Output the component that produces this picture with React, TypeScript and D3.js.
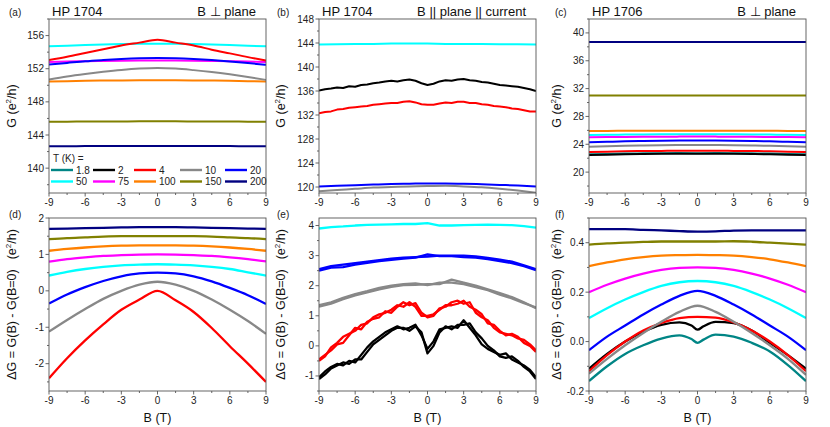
import * as d3 from 'd3';

// field grids (T)
const B13 = [-9, -7.5, -6, -4.5, -3, -1.5, 0, 1.5, 3, 4.5, 6, 7.5, 9];
const B15 = [-9, -7.5, -6, -4.5, -3, -1.5, -0.5, 0, 0.5, 1.5, 3, 4.5, 6, 7.5, 9];
const B19 = [-9, -8, -7, -6, -5, -4, -3, -2, -1, 0, 1, 2, 3, 4, 5, 6, 7, 8, 9];
const B37 = [
  -9, -8.5, -8, -7.5, -7, -6.5, -6, -5.5, -5, -4.5, -4, -3.5, -3, -2.5, -2, -1.5, -1, -0.5, 0,
  0.5, 1, 1.5, 2, 2.5, 3, 3.5, 4, 4.5, 5, 5.5, 6, 6.5, 7, 7.5, 8, 8.5, 9
];

const TEMPS = ['1.8', '2', '4', '10', '20', '50', '75', '100', '150', '200'];
const COLORS: Record<string, string> = {
  '1.8': '#008585',
  '2': '#000000',
  '4': '#ff0000',
  '10': '#888888',
  '20': '#0000ff',
  '50': '#00ffff',
  '75': '#ff00ff',
  '100': '#ff8000',
  '150': '#808000',
  '200': '#000080'
};

const X_TICKS = [-9, -6, -3, 0, 3, 6, 9];

// (a) HP 1704, B perpendicular, G (e^2/h)
const A_200 = [142.65, 142.65, 142.66, 142.66, 142.67, 142.67, 142.67, 142.67, 142.67, 142.66, 142.66, 142.65, 142.65];
const A_150 = [145.6, 145.61, 145.62, 145.63, 145.64, 145.65, 145.65, 145.65, 145.64, 145.63, 145.62, 145.61, 145.6];
const A_100 = [150.45, 150.5, 150.54, 150.57, 150.59, 150.6, 150.6, 150.6, 150.59, 150.57, 150.54, 150.5, 150.45];
const A_10 = [150.7, 151.05, 151.35, 151.62, 151.85, 152.02, 152.1, 152.02, 151.83, 151.6, 151.32, 151.0, 150.65];
const A_75 = [152.8, 152.86, 152.9, 152.94, 152.97, 152.99, 153.0, 152.99, 152.97, 152.94, 152.9, 152.86, 152.8];
const A_20 = [152.5, 152.7, 152.9, 153.05, 153.18, 153.27, 153.3, 153.27, 153.18, 153.05, 152.88, 152.68, 152.48];
const A_50 = [154.7, 154.78, 154.85, 154.92, 154.97, 155.0, 155.0, 155.0, 154.97, 154.92, 154.85, 154.78, 154.7];
const A_4 = [153.05, 153.45, 153.9, 154.35, 154.8, 155.15, 155.5, 155.15, 154.8, 154.3, 153.85, 153.4, 153.0];

// (b) HP 1704, B in plane
const B_50 = [143.75, 143.8, 143.85, 143.85, 143.9, 143.9, 143.9, 143.85, 143.85, 143.85, 143.8, 143.8, 143.75];
const B_2 = [
  136.1, 136.3, 136.4, 136.6, 136.5, 136.8, 136.7, 137.0, 137.1, 137.3, 137.4, 137.6, 137.7, 137.6, 137.8, 137.9, 137.7, 137.3, 137.0,
  137.2, 137.6, 137.8, 137.7, 137.9, 138.0, 137.8, 137.7, 137.5, 137.4, 137.2, 137.0, 136.9, 136.8, 136.7, 136.5, 136.3, 136.0
];
const B_4 = [
  132.3, 132.5, 132.6, 132.9, 133.0, 133.2, 133.3, 133.4, 133.5, 133.7, 133.8, 133.9, 134.0, 134.0, 134.2, 134.3, 134.1, 133.8, 133.7,
  133.7, 133.9, 134.1, 134.0, 134.2, 134.2, 134.0, 134.0, 133.8, 133.7, 133.5, 133.4, 133.3, 133.1, 133.0, 132.8, 132.6, 132.6
];
const B_20 = [120.1, 120.2, 120.3, 120.4, 120.5, 120.55, 120.6, 120.6, 120.55, 120.45, 120.35, 120.25, 120.1];
const B_10 = [119.3, 119.5, 119.7, 119.9, 120.0, 120.1, 120.15, 120.2, 120.1, 119.95, 119.7, 119.4, 119.05];

// (c) HP 1706, B perpendicular
const C_200 = [38.7, 38.7, 38.7, 38.7, 38.7, 38.7, 38.7, 38.7, 38.7, 38.7, 38.7, 38.7, 38.7];
const C_150 = [31.0, 31.0, 31.01, 31.01, 31.01, 31.01, 31.01, 31.01, 31.01, 31.01, 31.01, 31.0, 31.0];
const C_100 = [25.9, 25.92, 25.93, 25.94, 25.95, 25.95, 25.95, 25.95, 25.95, 25.94, 25.93, 25.92, 25.9];
const C_50 = [25.32, 25.36, 25.39, 25.42, 25.44, 25.45, 25.45, 25.45, 25.44, 25.42, 25.39, 25.36, 25.32];
const C_75 = [25.0, 25.03, 25.05, 25.07, 25.09, 25.1, 25.1, 25.1, 25.09, 25.07, 25.05, 25.03, 25.0];
const C_20 = [24.3, 24.36, 24.42, 24.47, 24.51, 24.54, 24.55, 24.54, 24.51, 24.47, 24.42, 24.36, 24.3];
const C_10 = [23.65, 23.72, 23.78, 23.83, 23.87, 23.89, 23.9, 23.89, 23.87, 23.83, 23.78, 23.72, 23.65];
const C_4 = [22.88, 22.94, 22.99, 23.03, 23.05, 23.07, 23.07, 23.07, 23.05, 23.03, 22.99, 22.94, 22.88];
const C_18 = [22.55, 22.61, 22.66, 22.7, 22.72, 22.73, 22.72, 22.73, 22.72, 22.7, 22.66, 22.61, 22.55];
const C_2 = [22.45, 22.51, 22.56, 22.6, 22.63, 22.64, 22.63, 22.64, 22.63, 22.6, 22.56, 22.51, 22.45];

// (d) HP 1704, B perpendicular, dG (offset)
const D_200 = [1.7, 1.71, 1.72, 1.73, 1.74, 1.75, 1.75, 1.75, 1.74, 1.73, 1.72, 1.71, 1.7];
const D_150 = [1.42, 1.45, 1.47, 1.49, 1.5, 1.5, 1.5, 1.5, 1.5, 1.49, 1.47, 1.45, 1.42];
const D_100 = [1.1, 1.15, 1.19, 1.22, 1.24, 1.25, 1.25, 1.25, 1.24, 1.22, 1.19, 1.15, 1.1];
const D_75 = [0.8, 0.87, 0.92, 0.96, 0.98, 0.995, 1.0, 0.995, 0.98, 0.96, 0.92, 0.87, 0.81];
const D_50 = [0.42, 0.52, 0.6, 0.66, 0.7, 0.72, 0.73, 0.72, 0.7, 0.66, 0.6, 0.51, 0.42];
const D_20 = [-0.35, -0.1, 0.1, 0.27, 0.4, 0.48, 0.5, 0.48, 0.4, 0.26, 0.08, -0.12, -0.36];
const D_10 = [-1.12, -0.8, -0.5, -0.22, 0.0, 0.17, 0.25, 0.17, 0.0, -0.24, -0.52, -0.83, -1.18];
const D_4 = [-2.4, -1.85, -1.36, -0.92, -0.52, -0.24, 0, -0.26, -0.58, -1.02, -1.52, -2.0, -2.5];

// (e) HP 1704, B in plane, dG (offset), two sweeps
const E_50 = [3.9, 3.95, 3.97, 4.0, 4.02, 4.03, 4.04, 4.05, 4.05, 4.08, 4.0, 4.0, 4.01, 4.02, 4.03, 4.02, 4.01, 3.98, 3.93];
const E_20a = [2.55, 2.65, 2.7, 2.75, 2.8, 2.85, 2.9, 2.93, 2.95, 2.97, 3.0, 3.0, 3.0, 2.97, 2.92, 2.87, 2.8, 2.68, 2.55];
const E_20b = [2.5, 2.6, 2.62, 2.7, 2.76, 2.82, 2.86, 2.9, 2.93, 3.04, 2.98, 2.98, 2.95, 2.93, 2.88, 2.82, 2.75, 2.65, 2.52];
const E_10a = [1.3, 1.4, 1.55, 1.68, 1.78, 1.88, 1.96, 2.02, 2.03, 2.05, 2.05, 2.2, 2.1, 2.0, 1.88, 1.75, 1.62, 1.45, 1.25];
const E_10b = [1.35, 1.45, 1.6, 1.72, 1.82, 1.93, 2.0, 2.05, 2.08, 2.02, 2.1, 2.1, 2.05, 1.95, 1.85, 1.7, 1.58, 1.42, 1.28];
const E_4a = [
  -0.45, -0.3, -0.15, 0.05, 0.1, 0.35, 0.6, 0.55, 0.8, 0.9, 0.95, 1.15, 1.1, 1.3, 1.45, 1.35, 1.42, 1.1, 0.95,
  1.0, 1.25, 1.3, 1.45, 1.5, 1.4, 1.45, 1.1, 0.95, 0.85, 0.6, 0.45, 0.4, 0.35, 0.25, 0.2, 0.05, -0.15
];
const E_4b = [
  -0.5, -0.35, -0.05, 0.1, 0.3, 0.4, 0.5, 0.7, 0.75, 0.95, 1.05, 1.1, 1.2, 1.35, 1.3, 1.45, 1.3, 1.0, 1.0,
  1.05, 1.2, 1.35, 1.35, 1.4, 1.5, 1.3, 1.2, 1.05, 0.75, 0.7, 0.5, 0.35, 0.4, 0.3, 0.1, 0.0, -0.2
];
const E_2a = [
  -1.05, -0.85, -0.7, -0.6, -0.65, -0.5, -0.55, -0.3, -0.05, 0.15, 0.3, 0.45, 0.55, 0.65, 0.55, 0.6, 0.7, 0.35, -0.1,
  0.15, 0.55, 0.6, 0.65, 0.6, 0.85, 0.6, 0.35, 0.05, -0.1, -0.2, -0.3, -0.25, -0.45, -0.55, -0.65, -0.8, -1.05
];
const E_2b = [
  -1.1, -0.95, -0.75, -0.65, -0.55, -0.6, -0.45, -0.45, -0.2, 0.05, 0.2, 0.35, 0.5, 0.6, 0.6, 0.5, 0.65, 0.45, -0.25,
  0.0, 0.45, 0.65, 0.55, 0.7, 0.7, 0.75, 0.45, 0.25, 0.0, -0.15, -0.35, -0.4, -0.35, -0.5, -0.7, -0.85, -1.1
];

// (f) HP 1706, B perpendicular, dG (offset)
const F_200 = [0.455, 0.455, 0.455, 0.452, 0.45, 0.447, 0.445, 0.446, 0.449, 0.45, 0.45, 0.45, 0.45];
const F_150 = [0.392, 0.397, 0.4, 0.403, 0.405, 0.405, 0.405, 0.405, 0.406, 0.404, 0.4, 0.396, 0.392];
const F_100 = [0.305, 0.32, 0.333, 0.342, 0.348, 0.35, 0.351, 0.35, 0.348, 0.342, 0.333, 0.32, 0.305];
const F_75 = [0.2, 0.23, 0.255, 0.275, 0.29, 0.298, 0.3, 0.298, 0.29, 0.275, 0.255, 0.23, 0.2];
const F_50 = [0.095, 0.135, 0.17, 0.2, 0.225, 0.24, 0.245, 0.24, 0.225, 0.2, 0.17, 0.135, 0.095];
const F_20 = [-0.035, 0.02, 0.065, 0.11, 0.15, 0.185, 0.205, 0.185, 0.15, 0.11, 0.065, 0.02, -0.035];
const F_18 = [-0.16, -0.1, -0.05, -0.015, 0.012, 0.025, 0.01, -0.005, 0.008, 0.028, 0.02, -0.005, -0.04, -0.095, -0.16];
const F_2 = [-0.11, -0.05, 0.0, 0.04, 0.068, 0.078, 0.065, 0.048, 0.062, 0.08, 0.075, 0.045, -0.005, -0.055, -0.11];
const F_4 = [-0.12, -0.055, 0.0, 0.045, 0.075, 0.095, 0.1, 0.097, 0.078, 0.045, 0.0, -0.055, -0.12];
const F_10 = [-0.13, -0.07, -0.015, 0.035, 0.08, 0.12, 0.145, 0.12, 0.08, 0.035, -0.015, -0.07, -0.135];

type Series = { t: string; x: number[]; y: number[]; smooth?: boolean };
type PanelDef = {
  tag: string;
  sample?: string;
  field?: string;
  col: number;
  row: number;
  domain: [number, number];
  ticks: number[];
  tickLabels: string[];
  minor: number;
  series: Series[];
  legend?: boolean;
};

const s = (t: string, x: number[], y: number[], smooth = true): Series => ({ t, x, y, smooth });

const PANELS: PanelDef[] = [
  {
    tag: '(a)', sample: 'HP 1704', field: 'B \u22a5 plane', col: 0, row: 0,
    domain: [137, 158], ticks: [140, 144, 148, 152, 156], tickLabels: ['140', '144', '148', '152', '156'], minor: 2,
    series: [s('200', B13, A_200), s('150', B13, A_150), s('100', B13, A_100), s('10', B13, A_10),
      s('75', B13, A_75), s('20', B13, A_20), s('50', B13, A_50), s('4', B13, A_4)],
    legend: true
  },
  {
    tag: '(b)', sample: 'HP 1704', field: 'B || plane || current', col: 1, row: 0,
    domain: [119, 148], ticks: [120, 124, 128, 132, 136, 140, 144, 148],
    tickLabels: ['120', '124', '128', '132', '136', '140', '144', '148'], minor: 2,
    series: [s('50', B13, B_50, false), s('10', B13, B_10), s('20', B13, B_20), s('4', B37, B_4, false), s('2', B37, B_2, false)]
  },
  {
    tag: '(c)', sample: 'HP 1706', field: 'B \u22a5 plane', col: 2, row: 0,
    domain: [17, 42], ticks: [20, 24, 28, 32, 36, 40], tickLabels: ['20', '24', '28', '32', '36', '40'], minor: 2,
    series: [s('200', B13, C_200), s('150', B13, C_150), s('100', B13, C_100), s('50', B13, C_50), s('75', B13, C_75),
      s('20', B13, C_20), s('10', B13, C_10), s('4', B13, C_4), s('1.8', B13, C_18), s('2', B13, C_2)]
  },
  {
    tag: '(d)', col: 0, row: 1,
    domain: [-2.75, 2], ticks: [-2, -1, 0, 1, 2], tickLabels: ['-2', '-1', '0', '1', '2'], minor: 0.5,
    series: [s('200', B13, D_200), s('150', B13, D_150), s('100', B13, D_100), s('75', B13, D_75), s('50', B13, D_50),
      s('20', B13, D_20), s('10', B13, D_10), s('4', B13, D_4)]
  },
  {
    tag: '(e)', col: 1, row: 1,
    domain: [-1.5, 4.25], ticks: [-1, 0, 1, 2, 3, 4], tickLabels: ['-1', '0', '1', '2', '3', '4'], minor: 0.5,
    series: [s('50', B19, E_50, false), s('20', B19, E_20a, false), s('20', B19, E_20b, false),
      s('10', B19, E_10a, false), s('10', B19, E_10b, false), s('4', B37, E_4a, false), s('4', B37, E_4b, false),
      s('2', B37, E_2a, false), s('2', B37, E_2b, false)]
  },
  {
    tag: '(f)', col: 2, row: 1,
    domain: [-0.2, 0.5], ticks: [-0.2, 0, 0.2, 0.4], tickLabels: ['-0.2', '0.0', '0.2', '0.4'], minor: 0.1,
    series: [s('200', B13, F_200), s('150', B13, F_150), s('100', B13, F_100), s('75', B13, F_75), s('50', B13, F_50),
      s('20', B13, F_20), s('1.8', B15, F_18), s('2', B15, F_2), s('4', B13, F_4), s('10', B13, F_10)]
  }
];

const COL_X = [49, 319, 589];
const PW = 217;
const ROW_Y: [number, number][] = [[19, 193], [218, 391]];
const TAG_X = [9, 277, 555];
const YTITLE_X = [16, 285, 561];
const FONT = "'Liberation Sans', Arial, Helvetica, sans-serif";

function Panel({ p }: { p: PanelDef }) {
  const left = COL_X[p.col];
  const right = left + PW;
  const [top, bottom] = ROW_Y[p.row];
  const x = d3.scaleLinear().domain([-9, 9]).range([left, right]);
  const y = d3.scaleLinear().domain(p.domain).range([bottom, top]);

  const minorY = d3.range(Math.ceil(p.domain[0] / p.minor - 1e-6), Math.floor(p.domain[1] / p.minor + 1e-6) + 1)
    .map((k) => k * p.minor)
    .filter((v) => !p.ticks.some((t) => Math.abs(t - v) < 1e-6));
  const minorX = d3.range(-9, 9, 1.5).filter((v) => !X_TICKS.includes(v));

  const clipId = `clip-${p.col}-${p.row}`;
  const midY = (top + bottom) / 2;

  return (
    <g>
      <defs>
        <clipPath id={clipId}>
          <rect x={left} y={top} width={PW} height={bottom - top} />
        </clipPath>
      </defs>
      <g clipPath={`url(#${clipId})`}>
        {p.series.map((ser, i) => {
          const line = d3
            .line<number>()
            .x((_, j) => x(ser.x[j]))
            .y((d) => y(d))
            .curve(ser.smooth ? d3.curveMonotoneX : d3.curveLinear);
          return (
            <path key={i} d={line(ser.y) ?? ''} fill="none" stroke={COLORS[ser.t]}
              strokeWidth={p.row === 0 ? 2 : 2.3} strokeLinejoin="round" />
          );
        })}
      </g>
      <rect x={left} y={top} width={PW} height={bottom - top} fill="none" stroke="#555" strokeWidth={0.9} />

      {/* x axis */}
      {X_TICKS.map((t) => (
        <g key={t}>
          <line x1={x(t)} x2={x(t)} y1={bottom} y2={bottom + 3.5} stroke="#555" strokeWidth={0.9} />
          <text x={x(t)} y={bottom + 13} textAnchor="middle" fontSize={10} fill="#222">{t}</text>
        </g>
      ))}
      {minorX.map((t) => (
        <line key={t} x1={x(t)} x2={x(t)} y1={bottom} y2={bottom + 2} stroke="#555" strokeWidth={0.9} />
      ))}

      {/* y axis */}
      {p.ticks.map((t, i) => (
        <g key={t}>
          <line x1={left - 3.5} x2={left} y1={y(t)} y2={y(t)} stroke="#555" strokeWidth={0.9} />
          <text x={left - 5} y={y(t) + 3.5} textAnchor="end" fontSize={10} fill="#222">{p.tickLabels[i]}</text>
        </g>
      ))}
      {minorY.map((t) => (
        <line key={t} x1={left - 2} x2={left} y1={y(t)} y2={y(t)} stroke="#555" strokeWidth={0.9} />
      ))}

      {/* tags and titles */}
      <text x={TAG_X[p.col]} y={top - (p.row === 0 ? 3 : 0)} fontSize={10} fill="#222">{p.tag}</text>
      {p.sample && (
        <text x={left + 3} y={top - 3} fontSize={13} fill="#111">{p.sample}</text>
      )}
      {p.field && (
        <text x={right - 10} y={top - 3} fontSize={13} textAnchor="end" fill="#111">{p.field}</text>
      )}

      {p.row === 0 ? (
        <text transform={`translate(${YTITLE_X[p.col]},${midY}) rotate(-90)`} textAnchor="middle" fontSize={12.5} fill="#111">
          G (e<tspan fontSize={8} dy={-5}>2</tspan><tspan dy={5}>/h)</tspan>
        </text>
      ) : (
        <text transform={`translate(${YTITLE_X[p.col]},${midY}) rotate(-90)`} textAnchor="middle" fontSize={12.5} fill="#111">
          {'\u0394G = G(B) - G(B=0)'}
          <tspan dx={10}>(e</tspan><tspan fontSize={8} dy={-5}>2</tspan><tspan dy={5}>/h)</tspan>
        </text>
      )}
      {p.row === 1 && (
        <text x={(left + right) / 2} y={422} textAnchor="middle" fontSize={12.5} fill="#111">B (T)</text>
      )}

      {p.legend && <Legend left={left} />}
    </g>
  );
}

const LEG_COLS = [2, 44, 85, 131, 176];

function Legend({ left }: { left: number }) {
  return (
    <g fontSize={10} fill="#222">
      <text x={left + 4} y={162}>T (K) =</text>
      {TEMPS.map((t, i) => {
        const cx = left + LEG_COLS[i % 5];
        const cy = i < 5 ? 170 : 181.5;
        return (
          <g key={t}>
            <line x1={cx} x2={cx + 22} y1={cy} y2={cy} stroke={COLORS[t]} strokeWidth={2.4} />
            <text x={cx + 25} y={cy + 3.5}>{t}</text>
          </g>
        );
      })}
    </g>
  );
}

export default function App() {
  return (
    <svg width={830} height={427} fontFamily={FONT}
      style={{ position: 'absolute', left: 0, top: 0, background: '#fff', display: 'block' }}>
      {PANELS.map((p) => (
        <Panel key={p.tag} p={p} />
      ))}
    </svg>
  );
}
